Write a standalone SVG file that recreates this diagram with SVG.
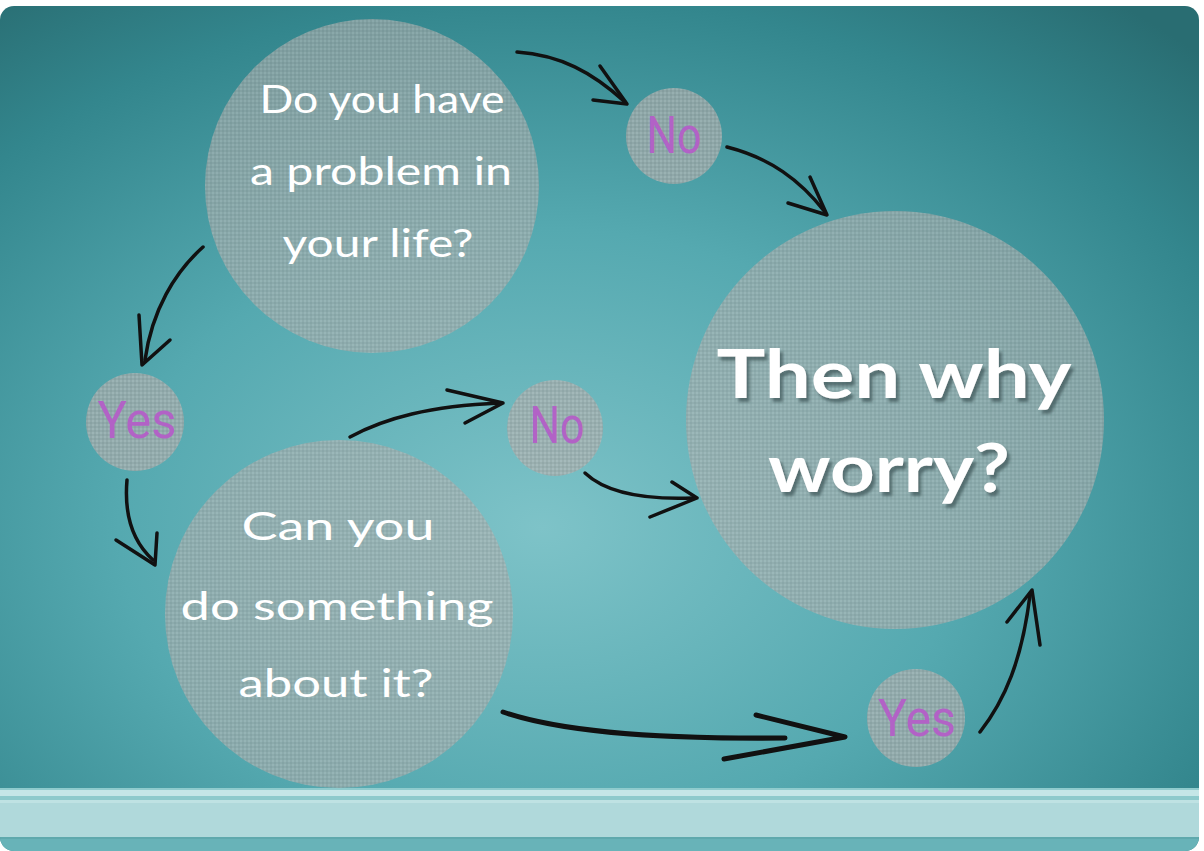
<svg xmlns="http://www.w3.org/2000/svg" width="1204" height="851" viewBox="0 0 1204 851">
<defs>
<radialGradient id="wall" cx="0.45" cy="0.62" r="0.78">
<stop offset="0" stop-color="#7ec3c8"/>
<stop offset="0.45" stop-color="#55a9b0"/>
<stop offset="0.8" stop-color="#33868d"/>
<stop offset="1" stop-color="#296d72"/>
</radialGradient>
<pattern id="fabric" width="4" height="4" patternUnits="userSpaceOnUse">
<rect width="4" height="4" fill="#a8abaa"/>
<rect width="2" height="2" fill="#b6b9b8"/>
<rect x="2" y="2" width="2" height="2" fill="#9da1a0"/>
</pattern>
<filter id="shadow" x="-10%" y="-10%" width="130%" height="140%">
<feDropShadow dx="3" dy="4" stdDeviation="1.5" flood-color="#3f5a5c" flood-opacity="0.75"/>
</filter>
<clipPath id="frame"><rect x="0" y="6" width="1199" height="845" rx="14"/></clipPath>
</defs>
<style>
.circle{fill:url(#fabric);fill-opacity:0.66}
.small{fill:url(#fabric);fill-opacity:0.74}
.q{font-family:"Lato","DejaVu Sans",sans-serif;fill:#ffffff;text-anchor:middle;font-size:38px}
.big{font-family:"Lato","DejaVu Sans",sans-serif;fill:#ffffff;text-anchor:middle;font-size:66px;font-weight:bold;filter:url(#shadow)}
.lbl{font-family:"Roboto","Liberation Sans",sans-serif;fill:#b262c6;text-anchor:middle;font-size:52px}
.arrow path{fill:none;stroke:#111;stroke-width:3.5;stroke-linecap:round;stroke-linejoin:round}
</style>
<rect width="1204" height="851" fill="#ffffff"/>
<g clip-path="url(#frame)">
<rect x="0" y="0" width="1204" height="851" fill="url(#wall)"/>
<rect x="0" y="788" width="1204" height="2" fill="#8fcbcd"/>
<rect x="0" y="790" width="1204" height="6" fill="#c5e6e7"/>
<rect x="0" y="796" width="1204" height="4" fill="#8ecacc"/>
<rect x="0" y="800" width="1204" height="3" fill="#bfe2e3"/>
<rect x="0" y="803" width="1204" height="34" fill="#b0d9db"/>
<rect x="0" y="837" width="1204" height="2" fill="#5fa9ad"/>
<rect x="0" y="839" width="1204" height="12" fill="#68b3b8"/>
</g>

<g id="q1">
<circle class="circle" cx="372" cy="186" r="167"/>
<text class="q" x="382" y="113" textLength="245" lengthAdjust="spacingAndGlyphs">Do you have</text>
<text class="q" x="381" y="185" textLength="262" lengthAdjust="spacingAndGlyphs">a problem in</text>
<text class="q" x="378" y="257" textLength="191" lengthAdjust="spacingAndGlyphs">your life?</text>
</g>

<g id="no1">
<circle class="small" cx="674" cy="136" r="48"/>
<text class="lbl" x="674" y="153" textLength="55" lengthAdjust="spacingAndGlyphs">No</text>
</g>

<g id="yes1">
<circle class="small" cx="135" cy="422" r="49"/>
<text class="lbl" x="137" y="438" textLength="79" lengthAdjust="spacingAndGlyphs">Yes</text>
</g>

<g id="no2">
<circle class="small" cx="555" cy="428" r="48"/>
<text class="lbl" x="557" y="443" textLength="55" lengthAdjust="spacingAndGlyphs">No</text>
</g>

<g id="yes2">
<circle class="small" cx="916" cy="718" r="49"/>
<text class="lbl" x="917" y="736" textLength="78" lengthAdjust="spacingAndGlyphs">Yes</text>
</g>

<g id="q2">
<circle class="circle" cx="339" cy="614" r="174"/>
<text class="q" x="338" y="540" textLength="193" lengthAdjust="spacingAndGlyphs">Can you</text>
<text class="q" x="337" y="620" textLength="313" lengthAdjust="spacingAndGlyphs">do something</text>
<text class="q" x="336" y="697" textLength="195" lengthAdjust="spacingAndGlyphs">about it?</text>
</g>

<g id="answer">
<circle class="circle" cx="895" cy="420" r="209"/>
<text class="big" x="894" y="398" textLength="355" lengthAdjust="spacingAndGlyphs">Then why</text>
<text class="big" x="889" y="492" textLength="242" lengthAdjust="spacingAndGlyphs">worry?</text>
</g>

<g id="connectors" class="arrow">
<path d="M517,52 C560,55 592,72 625,102"/>
<path d="M600,66 L627,104 L593,100"/>
<path d="M727,147 C770,158 800,180 825,212"/>
<path d="M810,177 L827,215 L788,203"/>
<path d="M203,247 C175,272 152,310 145,360"/>
<path d="M139,315 L142,365 L170,340"/>
<path d="M127,480 C124,515 133,542 153,560"/>
<path d="M116,540 L155,565 L157,533"/>
<path d="M350,437 C385,418 430,406 500,403"/>
<path d="M447,390 L503,403 L465,423"/>
<path d="M585,473 C605,492 640,500 693,498"/>
<path d="M672,482 L697,498 L650,517"/>
<path d="M503,712 C570,735 680,739 785,738" style="stroke-width:5"/>
<path d="M756,715 L845,737 L724,759" style="stroke-width:5"/>
<path d="M980,732 C1005,700 1022,660 1030,595"/>
<path d="M1007,622 L1032,590 L1040,645"/>
</g>
</svg>
